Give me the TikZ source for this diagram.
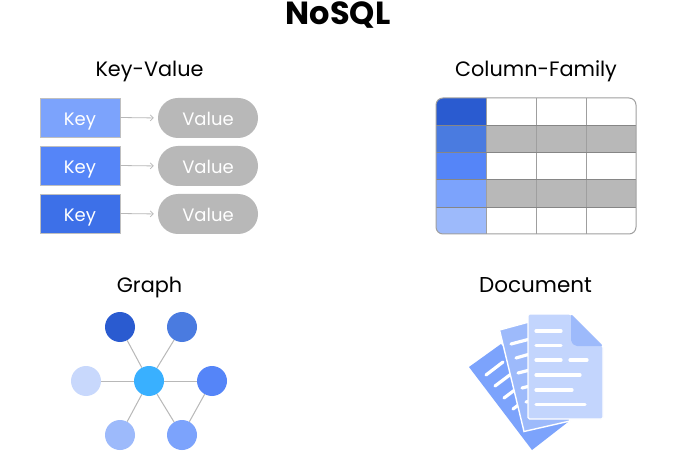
\documentclass[tikz,border=0pt]{standalone}
\usepackage{fontspec}
\setmainfont{Poppins}
\usetikzlibrary{arrows.meta}
\definecolor{cA}{HTML}{2A5BD0}
\definecolor{cB}{HTML}{4A7BE0}
\definecolor{cC}{HTML}{5585F8}
\definecolor{cD}{HTML}{7CA3FC}
\definecolor{cE}{HTML}{9DBAFB}
\definecolor{cF}{HTML}{C8D8FC}
\definecolor{cG}{HTML}{39B0FF}
\definecolor{cH}{HTML}{3D70E8}
\definecolor{gr}{HTML}{B8B8B8}
\definecolor{pageA}{HTML}{C3D5FD}
\definecolor{pageB}{HTML}{9DBAFB}
\definecolor{pageC}{HTML}{7CA3FC}
\tikzset{
  heading/.style={anchor=base,font=\fontsize{20.8}{24}\selectfont,text=black,inner sep=0pt},
  keybox/.style={draw=gray!50,line width=0.4pt,minimum width=80pt,minimum height=39pt,inner sep=0pt,text=white,text height=17pt,text depth=0pt,font=\fontsize{18}{20}\selectfont},
  valbox/.style={fill=gr,rounded corners=20pt,minimum width=100pt,minimum height=40pt,inner sep=0pt,text=white,text height=16pt,text depth=0pt,font=\fontsize{18}{20}\selectfont},
  arrowline/.style={draw=gr,line width=0.8pt,-{Straight Barb[length=3pt,width=6pt]}},
  gnode/.style={circle,minimum size=30pt,inner sep=0pt},
  glink/.style={draw=gr,line width=1pt},
  rowline/.style={draw=gray!95,line width=0.9pt},
  colline/.style={draw=gray!75,line width=1pt},
  pageline/.style={draw=white,line width=3.2pt,line cap=round},
}
\begin{document}
\begin{tikzpicture}[x=1pt,y=-1pt]
\useasboundingbox (0,0) rectangle (685,454);
\fill[white] (0,0) rectangle (685,454);
\node[anchor=base,font=\fontsize{32}{34}\selectfont\bfseries,inner sep=0pt] (title) at (338,25) {NoSQL};
\node[heading] (hkv) at (149.5,76.5) {Key-Value};
\node[heading] (hcf) at (536,76.5) {Column-Family};
\node[heading] (hg) at (149.5,292.5) {Graph};
\node[heading,font=\fontsize{21.5}{24}\selectfont] (hd) at (535.5,292.5) {Document};
% key-value
\node[keybox,fill=cD] (k1) at (80,117.5) {Key};
\node[keybox,fill=cC] (k2) at (80,165.5) {Key};
\node[keybox,fill=cH] (k3) at (80,213.5) {Key};
\node[valbox] (v1) at (208,118) {Value};
\node[valbox] (v2) at (208,166) {Value};
\node[valbox] (v3) at (208,214) {Value};
\draw[arrowline,shorten >=4pt] (k1.east) -- (v1.west);
\draw[arrowline,shorten >=4pt] (k2.east) -- (v2.west);
\draw[arrowline,shorten >=4pt] (k3.east) -- (v3.west);
% column family
\begin{scope}
\clip[rounded corners=7pt] (436,98) rectangle (636,234);
\fill[cA] (436,98) rectangle (486,125);
\fill[cB] (436,125) rectangle (486,152);
\fill[cC] (436,152) rectangle (486,179);
\fill[cD] (436,179) rectangle (486,207);
\fill[cE] (436,207) rectangle (486,234);
\fill[gr] (486,125) rectangle (636,152);
\fill[gr] (486,179) rectangle (636,207);
\end{scope}
\draw[colline] (486,98) -- (486,234);
\draw[colline] (536,98) -- (536,234);
\draw[colline] (586,98) -- (586,234);
\draw[rowline] (436,125) -- (636,125);
\draw[rowline] (436,152) -- (636,152);
\draw[rowline] (436,179) -- (636,179);
\draw[rowline] (436,207) -- (636,207);
\draw[colline,rounded corners=7pt] (436,98) rectangle (636,234);
% graph
\node[gnode,fill=cG] (c) at (149,381) {};
\node[gnode,fill=cA] (tl) at (120,327) {};
\node[gnode,fill=cB] (tr) at (182,327) {};
\node[gnode,fill=cF] (l) at (86,381) {};
\node[gnode,fill=cC] (r) at (212,381) {};
\node[gnode,fill=cE] (bl) at (120,435) {};
\node[gnode,fill=cD] (br) at (182,435) {};
\foreach \n in {tl,tr,l,r,bl,br} \draw[glink] (c) -- (\n);
\draw[glink] (r) -- (br);
% document
\fill[pageC] (469,367) -- (501,344) -- (568,422) -- (532,450) -- cycle;
\draw[pageline] (486,375) -- (503,362);
\draw[pageline] (495,386) -- (511,374);
\draw[pageline] (504,398) -- (520,386);
\draw[pageline] (513,409) -- (525,400);
\fill[pageB,draw=white,line width=1.4pt] (499.5,330) -- (540,319) -- (570,421) -- (524,431.5) -- cycle;
\draw[pageline] (511,344) -- (530,339);
\draw[pageline] (516,358) -- (530,354);
\draw[pageline] (518,373) -- (530,370);
\draw[pageline] (522,388) -- (530,386);
\draw[pageline] (526,402) -- (530,401);
\fill[pageA,draw=white,line width=1.4pt,rounded corners=1.5pt] (528,314) -- (571,314) -- (603,346) -- (603,419) -- (528,419) -- cycle;
\fill[pageB,rounded corners=2pt] (571,314) -- (603,346) -- (575,346) -- (571,342) -- cycle;
\draw[pageline] (536,331) -- (561,331);
\draw[pageline] (536,345.5) -- (561,345.5);
\draw[pageline] (536,360) -- (561,360);
\draw[pageline] (570,360) -- (587,360);
\draw[pageline] (536,375) -- (580,375);
\draw[pageline] (536,390) -- (572,390);
\draw[pageline] (536,404.5) -- (585,404.5);
\end{tikzpicture}
\end{document}
